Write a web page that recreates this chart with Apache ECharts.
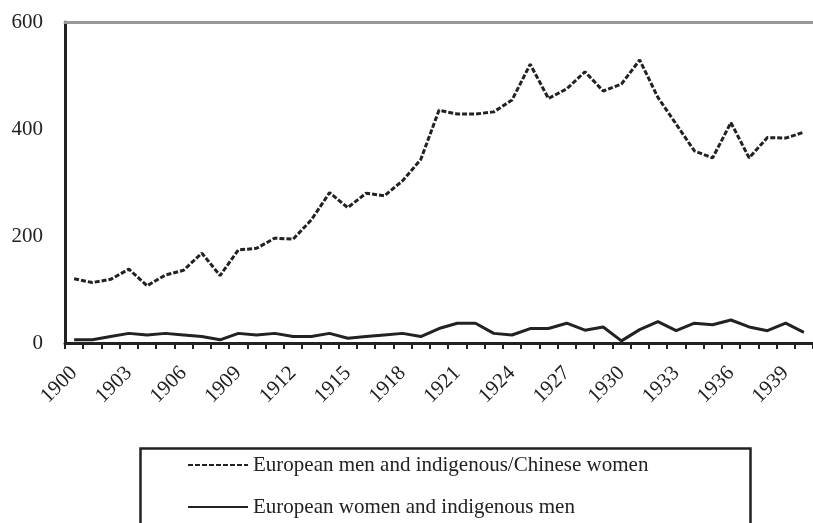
<!DOCTYPE html>
<html>
<head>
<meta charset="utf-8">
<script src="https://cdn.jsdelivr.net/npm/echarts@6/dist/echarts.min.js"></script>
<style>
  html, body { margin: 0; padding: 0; background: #fff; }
  #chart { width: 813px; height: 523px; }
</style>
</head>
<body>
<div id="chart"></div>
<script>
// years 1900..1940
let years = [];
for (let y = 1900; y <= 1940; y++) years.push(String(y));

// European men and indigenous/Chinese women
let menSeries = [
    120, 113, 119, 138, 107, 127, 136, 168, 126, 174,
    177, 196, 194, 230, 281, 253, 280, 275, 303, 343,
    435, 428, 428, 432, 454, 521, 457, 475, 507, 471,
    484, 529, 459, 409, 359, 346, 412, 346, 384, 383,
    394
];
// European women and indigenous men
let womenSeries = [
    6, 6, 12, 18, 15, 18, 15, 12, 6, 18,
    15, 18, 12, 12, 18, 9, 12, 15, 18, 12,
    27, 37, 37, 18, 15, 27, 27, 37, 24, 30,
    4, 25, 40, 23, 37, 34, 43, 30, 23, 37,
    20
];
let yTicks = [0, 200, 400, 600];

let font = '"Liberation Serif", "DejaVu Serif", serif';
let ink = '#222';

let myChart = echarts.init(document.getElementById('chart'));
let option = {
    animation: false,
    grid: { left: 65, top: 22, width: 753, height: 321 },
    // legend frame (runs off the bottom of the picture)
    graphic: [{
        type: 'rect',
        left: 138,
        top: 446,
        shape: { width: 610, height: 120 },
        style: { fill: 'none', stroke: ink, lineWidth: 2.5 }
    }],
    legend: {
        orient: 'vertical',
        left: 187,
        top: 454,
        padding: 0,
        itemGap: 20,
        itemWidth: 60,
        itemHeight: 14,
        itemStyle: { opacity: 0 },
        textStyle: { fontFamily: font, fontSize: 21, lineHeight: 22, color: ink },
        data: ['European men and indigenous/Chinese women', 'European women and indigenous men']
    },
    xAxis: [
        {
            type: 'category',
            data: years,
            boundaryGap: true,
            axisLine: { lineStyle: { color: ink, width: 3 } },
            axisTick: { show: true, interval: 0, length: 6, lineStyle: { color: ink, width: 2 } },
            axisLabel: {
                interval: 2,
                rotate: 45,
                margin: 27,
                fontFamily: font,
                fontSize: 21,
                color: ink
            }
        },
        {
            type: 'category',
            data: years,
            position: 'top',
            axisLine: { lineStyle: { color: '#999', width: 3 } },
            axisTick: { show: false },
            axisLabel: { show: false }
        }
    ],
    yAxis: {
        type: 'value',
        min: yTicks[0],
        max: yTicks[yTicks.length - 1],
        interval: 200,
        splitLine: { show: false },
        axisLine: { show: true, lineStyle: { color: ink, width: 3 } },
        axisTick: { show: false },
        axisLabel: { margin: 22, fontFamily: font, fontSize: 21, color: ink }
    },
    series: [
        {
            name: 'European men and indigenous/Chinese women',
            type: 'line',
            symbol: 'none',
            data: menSeries,
            lineStyle: { color: ink, width: 3, type: [5, 2] },
            itemStyle: { color: ink }
        },
        {
            name: 'European women and indigenous men',
            type: 'line',
            symbol: 'none',
            data: womenSeries,
            lineStyle: { color: ink, width: 3 },
            itemStyle: { color: ink }
        }
    ]
};
myChart.setOption(option, true);
</script>
</body>
</html>
